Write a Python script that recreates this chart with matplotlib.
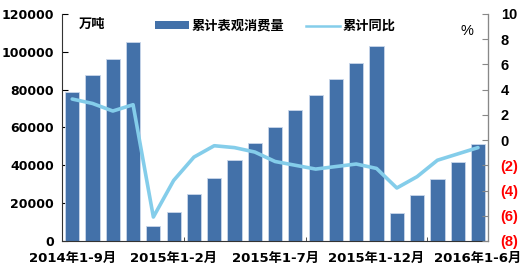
import matplotlib
matplotlib.use("Agg")
import matplotlib.pyplot as plt
from matplotlib.lines import Line2D
from matplotlib.patches import Patch

plt.rcParams['font.family'] = ['DejaVu Sans', 'Noto Sans CJK SC']

# 数据 (万吨, %)
periods = ['2014年1-9月', '2014年1-10月', '2014年1-11月', '2014年1-12月',
           '2015年1-1月', '2015年1-2月', '2015年1-3月', '2015年1-4月', '2015年1-5月',
           '2015年1-6月', '2015年1-7月', '2015年1-8月', '2015年1-9月', '2015年1-10月',
           '2015年1-11月', '2015年1-12月', '2016年1-2月', '2016年1-3月', '2016年1-4月',
           '2016年1-5月', '2016年1-6月']
consumption = [78800, 87800, 96300, 105000, 8000, 15500, 25000, 33500, 43000,
               52000, 60000, 69000, 77000, 85500, 94000, 103000, 15000, 24500,
               33000, 42000, 51000]
yoy = [3.25, 2.9, 2.3, 2.8, -6.1, -3.2, -1.35, -0.45, -0.6, -0.95, -1.7,
       -2.0, -2.3, -2.1, -1.9, -2.25, -3.8, -2.9, -1.6, -1.1, -0.6]
shown_labels = [0, 5, 10, 15, 20]

bar_color = '#4371a9'
line_color = '#84cdea'

fig = plt.figure(figsize=(5.26, 2.72), dpi=100)
ax = fig.add_axes([0.118, 0.114, 0.81, 0.835])
ax2 = ax.twinx()

x = list(range(len(periods)))
ax.bar(x, consumption, width=0.7, color=bar_color, edgecolor='#c9d7ea', linewidth=0.6, zorder=2)
ax2.plot(x, yoy, color=line_color, lw=2.6, solid_capstyle='round', zorder=3)

ax.set_xlim(-0.5, len(periods) - 0.5)
ax.set_ylim(0, 120000)
ax.set_yticks(range(0, 120001, 20000))
ax2.set_ylim(-8, 10)
ax2.set_yticks(range(-8, 11, 2))
ax2.set_yticklabels([f'({abs(v)})' if v < 0 else str(v) for v in range(-8, 11, 2)])
for lbl, v in zip(ax2.get_yticklabels(), range(-8, 11, 2)):
    lbl.set_color('#ff0000' if v < 0 else 'black')

ax.set_xticks(shown_labels)
ax.set_xticklabels([periods[i] for i in shown_labels], fontweight='bold', fontsize=9.5)
ax.set_xticks([5.5, 11.5, 17.5], minor=True)
ax.tick_params(axis='x', which='major', length=0, pad=8)
ax.tick_params(axis='x', which='minor', direction='in', length=3, color='#333333')
ax.tick_params(axis='y', direction='in', length=4, labelsize=9, pad=6)
ax2.tick_params(axis='y', direction='in', length=4, labelsize=10.5, pad=9, color='#888888')
for lbl in ax.get_yticklabels():
    lbl.set_fontweight('bold')
for lbl in ax2.get_yticklabels():
    lbl.set_fontweight('bold')
    lbl.set_family(['Liberation Sans', 'DejaVu Sans'])

for a in (ax, ax2):
    a.spines['top'].set_visible(False)
ax.spines['left'].set_color('#333333')
ax.spines['bottom'].set_color('#333333')
ax2.spines['left'].set_visible(False)
ax2.spines['bottom'].set_visible(False)
ax2.spines['right'].set_color('#888888')

ax.text(0.04, 0.955, '万吨', transform=ax.transAxes, fontsize=9.5, fontweight='bold',
        family=['Noto Sans CJK SC'], va='center')
ax2.text(0.95, 0.925, '%', transform=ax.transAxes, fontsize=10.5, ha='center', va='center',
         family=['Liberation Sans'])

handles = [Patch(facecolor=bar_color, edgecolor='none'),
           Line2D([0], [0], color=line_color, lw=1.8)]
ax.legend(handles, ['累计表观消费量', '累计同比'], loc='upper left', bbox_to_anchor=(0.19, 1.03),
          ncol=2, frameon=False, prop={'family': 'Noto Sans CJK SC', 'size': 9.5, 'weight': 'bold'},
          handlelength=2.6, handleheight=0.6, columnspacing=1.6, handletextpad=0.2)

fig.savefig('out.png', dpi=100, facecolor='white')
